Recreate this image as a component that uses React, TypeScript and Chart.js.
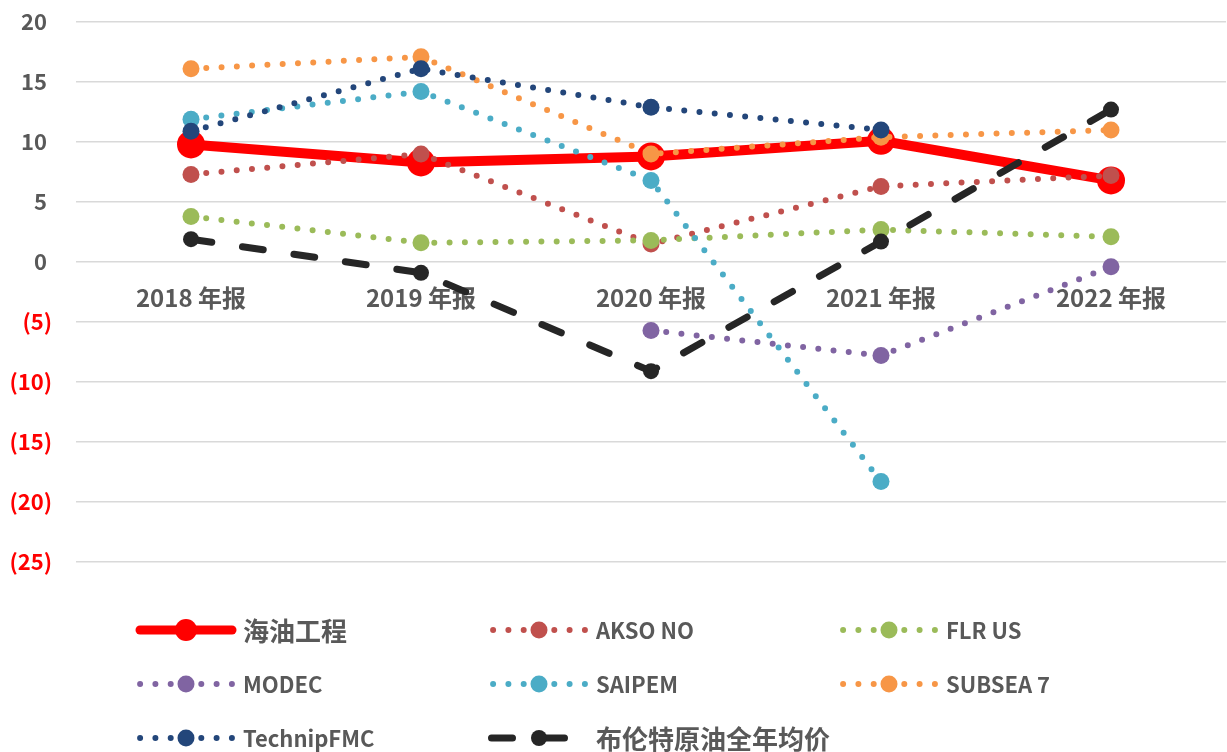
import React, { useEffect, useRef } from "react";
import { Chart, registerables } from "chart.js";

Chart.register(...registerables);

// ---- data ----
const categories = ["2018 年报", "2019 年报", "2020 年报", "2021 年报", "2022 年报"];
const cooec = [9.8, 8.3, 8.8, 10.1, 6.8];
const akso = [7.3, 9.0, 1.5, 6.3, 7.2];
const flr = [3.8, 1.6, 1.8, 2.7, 2.1];
const modec = [null, null, -5.7, -7.8, -0.4];
const saipem = [11.9, 14.2, 6.8, -18.3, null];
const subsea7 = [16.1, 17.1, 9.0, 10.4, 11.0];
const technip = [10.9, 16.1, 12.9, 11.0, null];
const brent = [1.9, -0.9, -9.1, 1.7, 12.7];

const seriesNames = ["海油工程", "AKSO NO", "FLR US", "MODEC", "SAIPEM", "SUBSEA 7", "TechnipFMC", "布伦特原油全年均价"];
const yTickValues = [20, 15, 10, 5, 0, -5, -10, -15, -20, -25];
const yTickLabels = ["20 ", "15 ", "10 ", "5 ", "0 ", "(5)", "(10)", "(15)", "(20)", "(25)"];

const FONT = "'Noto Sans CJK SC', 'Noto Sans', sans-serif";
const TEXT = "#595959";

const DOT = [0, 15.3];

function dotted(label: string, data: (number | null)[], color: string, idx: number) {
  return {
    label,
    data,
    borderColor: color,
    backgroundColor: color,
    borderWidth: 6,
    borderDash: DOT,
    borderCapStyle: "round",
    pointRadius: 8.5,
    pointHoverRadius: 8.5,
    pointBackgroundColor: color,
    pointBorderWidth: 0,
    order: 20 - idx,
    tension: 0,
  };
}

// make the plot area and category axis span to the right edge
const xSpanPlugin = {
  id: "xSpan",
  afterLayout(chart: any) {
    const ca = chart.chartArea;
    ca.right = chart.width - 1;
    ca.width = ca.right - ca.left;
    const xs = chart.scales.x;
    xs.left = ca.left;
    xs.right = ca.right;
    xs.width = ca.width;
    xs.configure();
    const ys = chart.scales.y;
    ys.configure();
  },
};

const legendPlugin = {
  id: "customLegend",
  afterDraw(chart: any) {
    const ctx = chart.ctx as CanvasRenderingContext2D;
    const cols = [135, 488, 838];
    const rows = [630, 684, 738];
    chart.data.datasets.forEach((ds: any, i: number) => {
      const x0 = cols[i % 3];
      const y = rows[Math.floor(i / 3)];
      const c = x0 + 51;
      const dash: number[] = ds.borderDash || [];
      const lw = ds.borderWidth;
      ctx.save();
      ctx.strokeStyle = ds.borderColor;
      ctx.lineWidth = ds.legendWidth || lw;
      ctx.lineCap = "round";
      ctx.setLineDash(dash);
      ctx.beginPath();
      if (dash.length && dash[0] < 1) {
        ctx.moveTo(c - 3 * dash[1], y);
        ctx.lineTo(c + 3 * dash[1] + 0.5, y);
      } else {
        ctx.moveTo(x0 + lw / 2, y);
        ctx.lineTo(x0 + 102 - lw / 2, y);
      }
      ctx.stroke();
      ctx.setLineDash([]);
      ctx.fillStyle = ds.pointBackgroundColor;
      ctx.beginPath();
      ctx.arc(c, y, ds.legendRadius || ds.pointRadius, 0, Math.PI * 2);
      ctx.fill();
      const cjk = /[\u4e00-\u9fff]/.test(ds.label);
      ctx.fillStyle = TEXT;
      ctx.font = cjk ? `bold 26px ${FONT}` : `bold 22px ${FONT}`;
      ctx.textBaseline = "middle";
      ctx.textAlign = "left";
      ctx.fillText(ds.label, x0 + 108, y + 1);
      ctx.restore();
    });
  },
};

export default function App() {
  const ref = useRef<HTMLCanvasElement>(null);
  useEffect(() => {
    if (!ref.current) return;
    const datasets: any[] = [
      {
        label: seriesNames[0],
        data: cooec,
        borderColor: "#FF0000",
        backgroundColor: "#FF0000",
        borderWidth: 10,
        pointRadius: 14,
        pointHoverRadius: 14,
        pointBackgroundColor: "#FF0000",
        pointBorderWidth: 0,
        legendWidth: 9,
        legendRadius: 11,
        order: 20,
        tension: 0,
      },
      dotted(seriesNames[1], akso, "#C0504D", 1),
      dotted(seriesNames[2], flr, "#9BBB59", 2),
      dotted(seriesNames[3], modec, "#8064A2", 3),
      dotted(seriesNames[4], saipem, "#4BACC6", 4),
      dotted(seriesNames[5], subsea7, "#F79646", 5),
      dotted(seriesNames[6], technip, "#23467A", 6),
      {
        label: seriesNames[7],
        data: brent,
        borderColor: "#262626",
        backgroundColor: "#262626",
        borderWidth: 7,
        borderDash: [21, 31],
        borderCapStyle: "round",
        pointRadius: 8,
        pointHoverRadius: 8,
        pointBackgroundColor: "#262626",
        pointBorderWidth: 0,
        order: 13,
        tension: 0,
      },
    ];
    const chart = new Chart(ref.current, {
      type: "line",
      data: { labels: categories, datasets },
      plugins: [xSpanPlugin, legendPlugin],
      options: {
        responsive: false,
        animation: false,
        devicePixelRatio: 1,
        layout: { padding: { top: 22, bottom: 190, left: 0, right: 1 } },
        plugins: { legend: { display: false }, tooltip: { enabled: false } },
        scales: {
          x: {
            type: "category",
            position: { y: 0 },
            offset: true,
            grid: { display: false, drawTicks: false },
            border: { display: false },
            afterFit: (s: any) => {
              s.height = 0;
              s.paddingLeft = 0;
              s.paddingRight = 0;
            },
            ticks: {
              padding: 21,
              autoSkip: false,
              maxRotation: 0,
              color: TEXT,
              font: { family: FONT, size: 24, weight: "bold" },
            },
          },
          y: {
            min: -25,
            max: 20,
            afterFit: (s: any) => {
              s.width = 76;
              s.paddingTop = 0;
              s.paddingBottom = 0;
            },
            grid: { color: "#D9D9D9", lineWidth: 1.5, drawTicks: false },
            border: { display: false },
            ticks: {
              stepSize: 5,
              padding: 24,
              font: { family: FONT, size: 22, weight: "bold" },
              color: (c: any) => (c.tick && c.tick.value < 0 ? "#FF0000" : TEXT),
              callback: (v: any) => {
                const i = yTickValues.indexOf(Number(v));
                return i >= 0 ? yTickLabels[i] : String(v);
              },
            },
          },
        },
      } as any,
    });
    return () => chart.destroy();
  }, []);
  return (
    <div style={{ position: "absolute", left: 0, top: 0, width: 1227, height: 752, background: "#fff" }}>
      <canvas ref={ref} width={1227} height={752} />
    </div>
  );
}
